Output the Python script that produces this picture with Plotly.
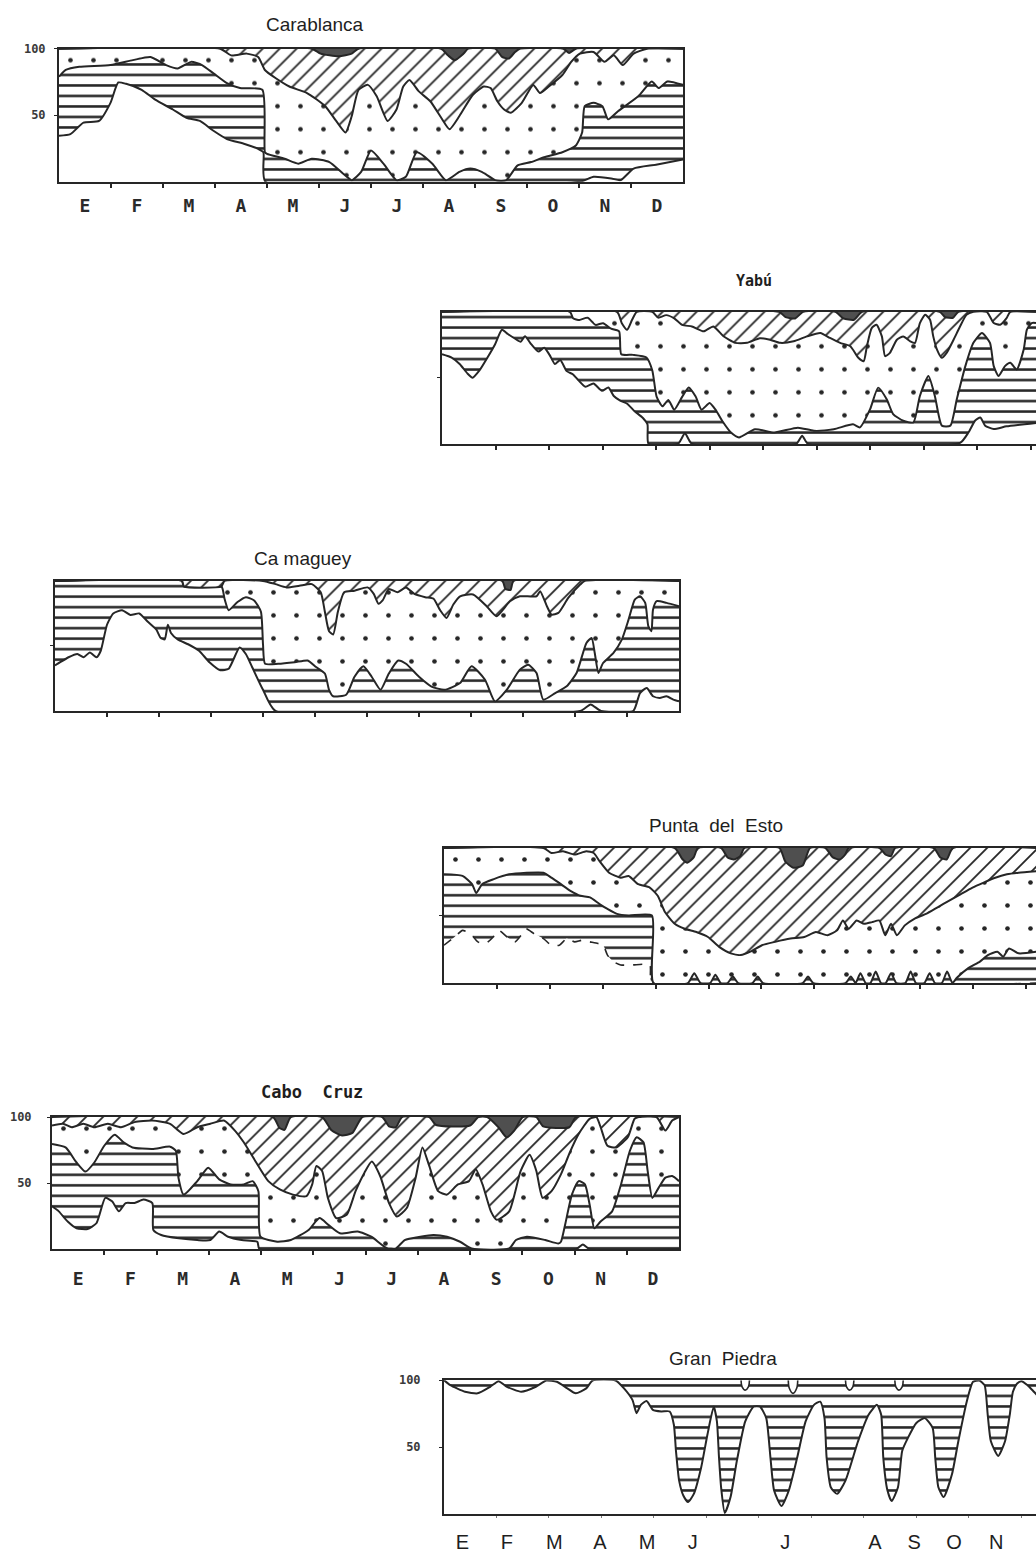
import plotly.graph_objects as go

W, H = 1036, 1553
INK = "#262626"
SOLID = "#4f4f4f"
NARROW = "Liberation Sans Narrow, Liberation Sans, Arial, sans-serif"
LEROY = "DejaVu Sans Mono, monospace"

MONTHS = ["E", "F", "M", "A", "M", "J", "J", "A", "S", "O", "N", "D"]
GP_MONTHS = ["E", "F", "M", "A", "M", "J", "J", "A", "S", "O", "N"]
GP_MONTH_POS = [0.35, 1.2, 2.1, 2.97, 3.87, 4.74, 6.5, 8.21, 8.96, 9.72, 10.52]

# ---------- Carablanca (month, percent) boundaries ----------
CARA_B1 = [(0, 34.6), (0.22, 35.8), (0.47, 44.4), (0.77, 45.7), (0.99, 59.3), (1.14, 74.6), (1.29, 73.6),
           (1.59, 69.1), (1.85, 61.7), (2.19, 54.3), (2.45, 48.1), (2.71, 45.7), (2.97, 38.3), (3.23, 32.1),
           (3.57, 28.4), (3.83, 24.7), (3.93, 22.2), (3.97, 0), (10.02, 0), (10.28, 3.7), (10.62, 2.5),
           (10.8, 1.2), (11.05, 9.9), (11.48, 12.8), (12, 16.8)]
CARA_B2 = [(0, 79), (0.13, 84), (0.39, 86.4), (0.99, 87.7), (1.42, 91.4), (1.76, 93.8), (2.06, 87.7),
           (2.28, 85.2), (2.54, 90.1), (2.75, 87.7), (2.97, 81.5), (3.23, 74.1), (3.48, 70.4), (3.91, 69.1),
           (3.96, 22.2), (4.0, 21), (4.34, 17.3), (4.6, 13.6), (4.86, 17.3), (5.2, 14.8), (5.46, 6.2),
           (5.63, 1.2), (5.81, 7.4), (6.0, 23.5), (6.24, 13.6), (6.49, 1.2), (6.67, 3.7), (6.88, 22.2),
           (7.18, 13.6), (7.44, 1.2), (7.7, 7.4), (7.91, 9.9), (8.13, 7.4), (8.39, 1.2), (8.6, 1.2),
           (8.82, 12.3), (9.08, 14.8), (9.33, 18.5), (9.68, 22.2), (9.94, 27.2), (10.06, 37), (10.11, 56.8),
           (10.28, 59.3), (10.45, 56.8), (10.56, 46.9), (10.75, 53), (11.14, 64.2), (11.4, 75.3),
           (11.53, 70.4), (11.7, 75.3), (12, 72.8)]
CARA_B3 = [(0, 100), (3.1, 100), (3.31, 95), (3.61, 96.3), (3.83, 93.8), (3.96, 84), (4.17, 77.8),
           (4.43, 71.6), (4.77, 66.7), (5.12, 56.8), (5.33, 45.7), (5.51, 37), (5.63, 49.4), (5.76, 69.1),
           (5.94, 72.8), (6.11, 64.2), (6.32, 45.7), (6.49, 54.3), (6.62, 71.6), (6.74, 76.5), (6.92, 67.9),
           (7.14, 60.5), (7.35, 48.1), (7.51, 39.5), (7.7, 49.4), (7.96, 65.4), (8.17, 71.6), (8.3, 70.4),
           (8.43, 60.5), (8.56, 54.3), (8.69, 51.9), (8.9, 59.3), (9.12, 72.8), (9.25, 66.7), (9.42, 71.6),
           (9.68, 80.2), (9.85, 90.1), (10.02, 96.3), (10.28, 97.5), (10.49, 90.1), (10.67, 95),
           (10.84, 87.7), (11.05, 96.3), (11.31, 100), (12, 100)]
CARA_B4 = [(0, 100), (4.86, 100), (5.03, 96.3), (5.38, 94.3), (5.63, 96.3), (5.76, 100), (7.35, 100),
           (7.48, 95), (7.61, 91.4), (7.78, 96.3), (7.87, 100), (8.39, 100), (8.52, 93.8), (8.65, 92.6),
           (8.77, 97.5), (8.86, 100), (9.7, 100), (9.81, 96.8), (9.94, 100), (12, 100)]

# ---------- Yabu ----------
YABU_B1 = [(0, 67.9), (0.18, 65.4), (0.33, 60.5), (0.48, 53.1), (0.57, 50.1), (0.7, 55.6), (0.85, 65.4),
           (0.99, 75.3), (1.12, 86.4), (1.23, 83.2), (1.36, 79.8), (1.47, 77.3), (1.55, 81.5), (1.67, 75.3),
           (1.8, 69.9), (1.91, 72.8), (2.01, 67.4), (2.11, 60.5), (2.21, 63.5), (2.33, 55.1), (2.45, 52.6),
           (2.55, 48.1), (2.68, 43.2), (2.83, 45.7), (2.99, 40.2), (3.11, 42.7), (3.21, 36.3), (3.33, 32.8),
           (3.46, 30.4), (3.6, 24.7), (3.75, 19.8), (3.84, 14.8), (3.86, 0), (4.41, 0), (4.54, 8.1),
           (4.67, 0), (6.62, 0), (6.73, 6.2), (6.84, 0), (9.68, 0.7), (9.84, 8.8), (9.96, 17.5), (10.06, 20),
           (10.15, 13.8), (10.31, 11.3), (10.55, 13.3), (11.1, 15.8)]
YABU_B2 = [(0, 100), (2.39, 100), (2.45, 95.1), (2.57, 93.8), (2.72, 95.6), (2.87, 90.1), (3.01, 91.4),
           (3.16, 87.2), (3.31, 85.2), (3.35, 67.9), (3.57, 67.4), (3.82, 65.4), (3.93, 55.6), (4.01, 35.8),
           (4.12, 28.4), (4.23, 33.3), (4.34, 25.9), (4.49, 35.8), (4.61, 42.7), (4.74, 35.8), (4.85, 25.9),
           (5.0, 30.9), (5.11, 25.9), (5.26, 16), (5.4, 8.6), (5.55, 4.9), (5.85, 11.1), (6.21, 8.6),
           (6.65, 12.3), (6.95, 9.9), (7.32, 11.1), (7.68, 14.8), (7.81, 12.5), (8.0, 26.3), (8.15, 42.6),
           (8.31, 33.8), (8.43, 22.6), (8.62, 17.5), (8.81, 16.3), (8.93, 36.3), (9.09, 51.4), (9.21, 36.3),
           (9.34, 13.8), (9.5, 13.8), (9.62, 33.8), (9.78, 58.9), (9.93, 76.5), (10.09, 84), (10.24, 76.5),
           (10.31, 58.9), (10.4, 51.4), (10.52, 58.9), (10.62, 61.4), (10.74, 56.4), (10.87, 71.4),
           (10.93, 86.5), (11.02, 91.5), (11.1, 91.5)]
YABU_B3 = [(0, 100), (3.27, 100), (3.36, 91.4), (3.46, 86.4), (3.55, 93.8), (3.64, 100), (3.93, 100),
           (4.04, 95.6), (4.19, 97.5), (4.34, 95.1), (4.49, 90.1), (4.67, 88.9), (4.89, 85.2), (5.07, 88.9),
           (5.26, 81.5), (5.48, 76.5), (5.7, 76.5), (5.94, 80), (6.13, 78.9), (6.32, 76.5), (6.57, 77.7),
           (6.82, 81.4), (7.07, 84), (7.25, 80.2), (7.44, 76.5), (7.63, 73.9), (7.78, 65.2), (7.88, 62.6),
           (7.94, 73.9), (8.03, 87.7), (8.12, 90.2), (8.22, 81.4), (8.28, 66.4), (8.37, 68.9), (8.5, 78.9),
           (8.62, 81.4), (8.75, 77.7), (8.84, 76.5), (8.93, 91.5), (9.03, 97.7), (9.12, 94), (9.18, 81.4),
           (9.25, 71.4), (9.34, 65.2), (9.43, 68.9), (9.56, 78.9), (9.68, 88.9), (9.8, 97.7), (9.93, 100),
           (10.18, 100), (10.31, 91.5), (10.43, 90.2), (10.55, 95.2), (10.62, 100), (11.1, 100)]
YABU_B4 = [(0, 100), (6.3, 100), (6.42, 96), (6.6, 95), (6.75, 100), (7.35, 100), (7.5, 95), (7.7, 94),
           (7.85, 100), (9.3, 100), (9.4, 96), (9.55, 95.5), (9.65, 100), (11.1, 100)]

# ---------- Camaguey ----------
CAMA_B1 = [(0, 35), (0.1, 37.5), (0.26, 41.3), (0.43, 43.8), (0.55, 41.3), (0.67, 45), (0.8, 41.3),
           (0.88, 46.3), (1.0, 66.3), (1.12, 75), (1.29, 77.5), (1.45, 73.8), (1.62, 75), (1.78, 68.8),
           (1.95, 62.5), (2.03, 56.3), (2.11, 55), (2.17, 66.3), (2.23, 60), (2.36, 55), (2.56, 51.3),
           (2.77, 46.3), (2.97, 37.5), (3.18, 31.3), (3.34, 32.5), (3.55, 48.8), (3.67, 43.8), (3.79, 33.8),
           (4.0, 16.3), (4.24, 0), (10.1, 0), (10.3, 5), (10.5, 0), (11.12, 0), (11.25, 13.8), (11.38, 17.7),
           (11.5, 11.3), (11.63, 10), (11.76, 11.3), (11.89, 8.7), (12, 7.4)]
CAMA_B2 = [(0, 100), (2.44, 100), (2.48, 95.8), (3.2, 95.8), (3.26, 86.3), (3.34, 77.5), (3.51, 83.8),
           (3.67, 87.5), (3.83, 85), (3.96, 76.3), (4.0, 51.3), (4.04, 36.3), (4.29, 36.3), (4.61, 37.5),
           (4.86, 38.8), (5.02, 33.8), (5.19, 28.8), (5.27, 16.3), (5.35, 11.3), (5.6, 12.5), (5.76, 26.3),
           (5.93, 34.3), (6.09, 26.3), (6.26, 16.3), (6.42, 28.8), (6.6, 38.8), (6.75, 36.3), (7.0, 26.3),
           (7.24, 18.8), (7.49, 16.3), (7.79, 21.5), (8.01, 34.4), (8.27, 24), (8.46, 7.4), (8.69, 16.4),
           (8.94, 31.8), (9.1, 35.6), (9.26, 29.2), (9.39, 8.7), (9.62, 13.8), (9.84, 19), (10.03, 29.2),
           (10.22, 52.3), (10.32, 56.2), (10.38, 44.6), (10.45, 29.2), (10.54, 36.9), (10.74, 44.6),
           (10.9, 54.8), (11.03, 70.2), (11.15, 85.6), (11.25, 88.2), (11.35, 83.1), (11.41, 65.2),
           (11.47, 61.3), (11.5, 77.9), (11.57, 84.4), (11.76, 83.1), (12, 80.5)]
CAMA_B3 = [(0, 100), (2.44, 100), (2.48, 95.8), (3.2, 95.8), (3.26, 100), (4.0, 100), (4.24, 97.5),
           (4.45, 95), (4.7, 96.3), (4.94, 97.5), (5.11, 91.3), (5.19, 76.3), (5.27, 61.3), (5.35, 58.8),
           (5.44, 76.3), (5.56, 91.3), (5.76, 92.5), (6.01, 95), (6.13, 90), (6.22, 82.5), (6.3, 85),
           (6.42, 93.8), (6.59, 91.3), (6.75, 95), (6.91, 90), (7.12, 87.5), (7.28, 86.3), (7.4, 77.9),
           (7.53, 71.5), (7.66, 81.8), (7.79, 88.2), (8.04, 89.5), (8.3, 80.5), (8.49, 72.8), (8.75, 84.4),
           (8.94, 88.2), (9.26, 88.2), (9.33, 92.1), (9.46, 80.5), (9.55, 74.1), (9.68, 75.4), (9.87, 86.9),
           (10.1, 97.2), (10.19, 100), (12, 100)]
CAMA_B4 = [(0, 100), (8.6, 100), (8.66, 94), (8.76, 93), (8.82, 100), (12, 100)]

# ---------- Punta del Esto ----------
PUNTA_B1 = [(0, 28), (0.2, 34.1), (0.35, 39), (0.5, 36.6), (0.64, 30.5), (0.79, 29.3), (0.93, 34.1),
            (1.04, 39), (1.19, 34.1), (1.34, 30.5), (1.48, 36.6), (1.55, 40.2), (1.7, 36.6), (1.88, 32.9),
            (2.03, 28), (2.18, 28), (2.32, 32.9), (2.47, 30.5), (2.61, 31.7), (2.76, 30.5), (2.91, 29.3),
            (3.01, 28), (3.09, 20.7), (3.2, 15.9), (3.34, 13.4), (3.56, 13.4), (3.89, 13.4), (3.93, 0),
            (11.2, 0)]
PUNTA_B2 = [(0, 80.5), (0.35, 79.3), (0.53, 73.2), (0.61, 66.6), (0.72, 73.2), (0.93, 76.8), (1.23, 80.5),
            (1.88, 81.7), (2.03, 78), (2.21, 73.2), (2.39, 68.3), (2.58, 64.6), (2.76, 63.4), (2.94, 58.5),
            (3.09, 54.9), (3.27, 51.2), (3.49, 50), (3.93, 50), (3.96, 0), (4.61, 0), (4.73, 7.3), (4.85, 0),
            (5.03, 0), (5.13, 6.1), (5.23, 0), (5.36, 0), (5.46, 4.9), (5.56, 0), (5.83, 0), (5.93, 4.9),
            (6.03, 0), (6.78, 0), (6.88, 4.9), (6.98, 0), (7.59, 0), (7.69, 4.9), (7.78, 0), (7.87, 7.3),
            (7.97, 0), (8.06, 0), (8.16, 8.5), (8.26, 0), (8.35, 0), (8.45, 7.3), (8.55, 0), (8.72, 0),
            (8.82, 8.5), (8.92, 0), (9.08, 0), (9.18, 7.3), (9.28, 0), (9.41, 0), (9.51, 8.5), (9.61, 0),
            (9.69, 3.7), (9.91, 11), (10.13, 15.9), (10.28, 20.7), (10.46, 23.2), (10.57, 19.5),
            (10.68, 25.6), (10.86, 22), (11.2, 23.2)]
PUNTA_B3 = [(0, 100), (1.88, 100), (2.03, 96.3), (2.25, 97.6), (2.47, 95.1), (2.69, 97.6), (2.83, 96.3),
            (2.94, 90.2), (3.12, 81.7), (3.34, 78), (3.49, 79.3), (3.67, 73.2), (3.89, 70.7), (4.04, 64.6),
            (4.18, 52.4), (4.36, 43.9), (4.55, 40.2), (4.77, 37.8), (4.99, 34.1), (5.2, 26.8), (5.42, 22),
            (5.61, 20.7), (5.79, 23.2), (6.01, 28), (6.26, 30.5), (6.55, 32.9), (6.81, 34.1), (7.03, 37.8),
            (7.25, 35.4), (7.43, 39), (7.54, 46.3), (7.65, 40.2), (7.8, 46.3), (7.94, 43.9), (8.09, 45.1),
            (8.23, 46.3), (8.34, 35.4), (8.45, 43.9), (8.56, 35.4), (8.71, 42.7), (8.89, 47.6), (9.11, 51.2),
            (9.33, 56.1), (9.55, 61), (9.77, 65.9), (9.99, 70.7), (10.2, 74.4), (10.42, 78), (10.64, 80.5),
            (10.86, 81.7), (11.2, 82.9)]
PUNTA_B4 = [(0, 100), (4.36, 100), (4.5, 92), (4.6, 89), (4.72, 93), (4.8, 100), (5.24, 100), (5.36, 93),
            (5.48, 91.5), (5.6, 94), (5.68, 100), (6.34, 100), (6.45, 90), (6.6, 85.4), (6.78, 87),
            (6.92, 100), (7.21, 100), (7.35, 93), (7.48, 91.5), (7.58, 95), (7.65, 100), (8.23, 100),
            (8.35, 95), (8.45, 94), (8.53, 100), (9.26, 100), (9.38, 93), (9.5, 91.5), (9.62, 100), (11.2, 100)]

# ---------- Cabo Cruz ----------
CABO_B1 = [(0, 32.4), (0.13, 28.6), (0.3, 20.9), (0.47, 15.8), (0.68, 15.3), (0.85, 19.6), (1.02, 38.8),
           (1.15, 36.2), (1.28, 28.6), (1.41, 34.9), (1.58, 34.9), (1.75, 37.5), (1.92, 34.9), (1.94, 14.5),
           (2.09, 10.7), (2.43, 8.2), (2.78, 6.9), (3.03, 6.9), (3.2, 13.3), (3.37, 9.4), (3.63, 6.9),
           (3.93, 5.6), (3.97, 0), (10.03, 0), (10.16, 3.6), (10.29, 0), (12, 0)]
CABO_B2 = [(0, 79.6), (0.26, 77), (0.47, 65.6), (0.64, 58.7), (0.81, 65.6), (1.0, 78.3), (1.2, 86.7),
           (1.37, 80.9), (1.54, 77), (1.92, 75.8), (2.26, 77.6), (2.37, 74.5), (2.42, 54.1), (2.52, 41.3),
           (2.78, 51.5), (2.99, 61.7), (3.2, 52.8), (3.42, 49), (3.67, 49), (3.84, 51.5), (3.95, 43.9),
           (3.99, 9.4), (4.31, 5.6), (4.57, 6.9), (4.91, 14.5), (5.12, 23.5), (5.29, 18.4), (5.51, 12),
           (5.85, 13.3), (6.11, 9.4), (6.4, 1), (6.58, 0.5), (6.75, 6.9), (7.05, 9.4), (7.3, 10.7),
           (7.56, 9.4), (7.81, 5.6), (8.03, 0.5), (8.75, 0.5), (8.88, 6.9), (9.09, 9.4), (9.44, 6.9),
           (9.69, 4.3), (9.74, 5.6), (9.82, 18.4), (9.95, 41.3), (10.08, 51.5), (10.2, 49), (10.29, 33.7),
           (10.38, 15.8), (10.5, 20.9), (10.72, 28.6), (10.89, 49), (11.06, 74.5), (11.19, 84.7),
           (11.32, 80.9), (11.4, 59.2), (11.49, 38.8), (11.61, 46.4), (11.74, 54.1), (11.87, 55.4), (12, 51.5)]
CABO_B3 = [(0, 93.6), (0.21, 94.9), (0.38, 92.3), (0.6, 94.9), (0.81, 92.3), (1.07, 94.9), (1.32, 92.3),
           (1.58, 96.2), (1.92, 97.4), (2.26, 94.9), (2.52, 87.2), (2.78, 92.3), (3.03, 94.9), (3.29, 97.4),
           (3.5, 89.8), (3.67, 80.9), (3.89, 66.8), (4.14, 51.5), (4.36, 45.2), (4.61, 41.3), (4.87, 40.1),
           (4.98, 49), (5.06, 63), (5.17, 59.2), (5.28, 38.8), (5.44, 23.5), (5.64, 26), (5.81, 43.9),
           (5.98, 57.9), (6.12, 66.3), (6.28, 55.4), (6.45, 34.9), (6.6, 24.7), (6.79, 31.1), (6.96, 54.1),
           (7.09, 77), (7.22, 63), (7.39, 43.9), (7.56, 41.3), (7.77, 49), (7.98, 51.5), (8.11, 60.5),
           (8.24, 49), (8.4, 28.6), (8.51, 22.2), (8.75, 28.6), (8.97, 59.2), (9.14, 71.4), (9.27, 59.2),
           (9.39, 38.8), (9.56, 43.9), (9.74, 56.6), (9.91, 73.2), (10.08, 87.2), (10.29, 98.7), (10.42, 100),
           (10.5, 92.3), (10.63, 78.3), (10.8, 77), (11.02, 84.7), (11.15, 98.7), (11.23, 100), (11.57, 100),
           (11.74, 89.8), (11.87, 97.4), (12, 100)]
CABO_B4 = [(0, 100), (4.23, 100), (4.35, 92), (4.45, 90.3), (4.57, 100), (5.17, 100), (5.35, 90), (5.55, 86),
           (5.75, 88), (5.94, 100), (6.32, 100), (6.45, 93), (6.58, 92.3), (6.7, 100), (7.22, 100), (7.35, 94),
           (8.0, 93.6), (8.16, 100), (8.33, 100), (8.55, 92), (8.7, 84.7), (8.85, 90), (9.01, 100),
           (9.27, 100), (9.4, 93), (9.9, 92.3), (10.03, 100), (12, 100)]

# ---------- Gran Piedra ----------
GP_B1 = [(0, 100), (0.12, 96.3), (0.4, 91.4), (0.64, 90.2), (0.88, 95.1), (1.04, 99.3), (1.2, 95.1),
         (1.47, 91.4), (1.75, 95.1), (1.95, 99.8), (2.15, 98.8), (2.35, 93.9), (2.51, 90.2), (2.71, 93.9),
         (2.83, 99.8), (3.27, 99.8), (3.43, 93.9), (3.59, 85.3), (3.67, 75.4), (3.75, 81.6), (3.86, 84.5),
         (3.98, 77.9), (4.14, 76.7), (4.3, 76.7), (4.38, 66.8), (4.42, 47.2), (4.48, 25.1), (4.56, 14),
         (4.65, 9.1), (4.76, 15.2), (4.9, 34.9), (5.02, 59.5), (5.14, 80.3), (5.2, 69.3), (5.24, 42.3),
         (5.28, 20.1), (5.35, 1), (5.46, 12.8), (5.58, 39.8), (5.74, 69.3), (5.9, 80.3), (6.02, 80.3),
         (6.14, 71.7), (6.22, 42.3), (6.29, 17.7), (6.43, 6.1), (6.57, 17.7), (6.73, 42.3), (6.89, 69.3),
         (7.05, 81.6), (7.17, 84), (7.25, 71.7), (7.29, 42.3), (7.37, 20.1), (7.49, 15.2), (7.65, 25.1),
         (7.89, 54.5), (8.09, 74.2), (8.25, 81.6), (8.33, 74.2), (8.37, 42.3), (8.45, 17.7), (8.53, 9.8),
         (8.65, 20.1), (8.73, 47.2), (8.84, 57), (9.0, 68.1), (9.16, 71.7), (9.31, 64.4), (9.36, 42.3),
         (9.42, 20.1), (9.52, 12.8), (9.68, 30), (9.8, 54.5), (9.96, 84), (10.08, 98.8), (10.2, 99.8),
         (10.3, 96.3), (10.36, 74.2), (10.42, 54.5), (10.56, 43.5), (10.69, 54.5), (10.78, 74.2),
         (10.84, 91.4), (10.92, 97.5), (11.0, 99.3), (11.12, 96.3), (11.24, 91.4), (11.3, 88.9)]
GP_HOLES = [
    [(5.66, 100), (5.68, 95), (5.74, 92.6), (5.8, 95), (5.82, 100)],
    [(6.56, 100), (6.58, 94), (6.65, 90.2), (6.72, 94), (6.74, 100)],
    [(7.65, 100), (7.67, 95), (7.73, 92.6), (7.79, 95), (7.81, 100)],
    [(8.59, 100), (8.61, 95), (8.67, 92.6), (8.73, 95), (8.75, 100)],
]

# ---------- panel geometry (pixels in the 1036x1553 page) ----------
PANELS = [
    dict(name="Carablanca", layers=[CARA_B1, CARA_B2, CARA_B3, CARA_B4], box=(59, 42, 683, 176), xmax=12,
         title_xy=(315, 18), title_font=(NARROW, 19, False), months="full", ylabels=True, full=True,
         xstand=7, ystand=6),
    dict(name="Yabú", layers=[YABU_B1, YABU_B2, YABU_B3, YABU_B4], box=(442, 307, 1036, 440), xmax=11.1,
         title_xy=(754, 276), title_font=(LEROY, 15, True), months=None, ylabels=False, full=False),
    dict(name="Ca maguey", layers=[CAMA_B1, CAMA_B2, CAMA_B3, CAMA_B4], box=(55, 578, 679, 709), xmax=12,
         title_xy=(303, 555), title_font=(NARROW, 19, False), months=None, ylabels=False, full=True),
    dict(name="Punta\u00a0 del\u00a0 Esto", layers=[PUNTA_B1, PUNTA_B2, PUNTA_B3, PUNTA_B4],
         box=(444, 847, 1036, 983), xmax=11.19, title_xy=(716, 824), title_font=(NARROW, 19, False),
         months=None, ylabels=False, full=False, dash_b1=True),
    dict(name="Cabo\u00a0 Cruz", layers=[CABO_B1, CABO_B2, CABO_B3, CABO_B4], box=(52, 1118, 679, 1251),
         xmax=12, title_xy=(312, 1093), title_font=(LEROY, 17, True), months="full", ylabels=True,
         full=True, xstand=12, ystand=13),
    dict(name="Gran\u00a0 Piedra", layers=[GP_B1], box=(444, 1383, 1036, 1518), xmax=11.28,
         title_xy=(723, 1361), title_font=(NARROW, 19, False), months="gp", ylabels=True, full=False,
         xstand=9, ystand=16),
]

PATTERNS = [
    dict(shape="-", size=10.5, solidity=0.24, fgcolor=INK, bgcolor="white", fillmode="replace"),
    dict(shape=".", size=23, solidity=0.032, fgcolor=INK, bgcolor="white", fillmode="replace"),
    dict(shape="/", size=12, solidity=0.15, fgcolor=INK, bgcolor="white", fillmode="replace"),
]
LINE_W = 2.0

fig = go.Figure()
annotations = []

for i, p in enumerate(PANELS, start=1):
    xa = "x" if i == 1 else f"x{i}"
    ya = "y" if i == 1 else f"y{i}"
    xmax = p["xmax"]
    layers = p["layers"]
    for k, pts in enumerate(layers):
        xs = [q[0] for q in pts]
        ys = [q[1] for q in pts]
        kw = dict(x=xs, y=ys, mode="lines", xaxis=xa, yaxis=ya, showlegend=False, hoverinfo="skip",
                  line=dict(color=INK, width=LINE_W, shape="spline", smoothing=0.55))
        if k == 0 and p.get("dash_b1"):
            kw["line"] = dict(color=INK, width=1.6, dash="dash", shape="spline", smoothing=0.55)
        if k > 0:
            kw["fill"] = "tonexty"
            kw["fillcolor"] = "white"
            kw["fillpattern"] = PATTERNS[k - 1]
        fig.add_trace(go.Scatter(**kw))
    top_kw = dict(x=[0, xmax], y=[100, 100], mode="lines", xaxis=xa, yaxis=ya, showlegend=False,
                  hoverinfo="skip", fill="tonexty", line=dict(width=0, color=INK))
    if len(layers) == 4:
        top_kw["fillcolor"] = SOLID
    else:
        top_kw["fillcolor"] = "white"
        top_kw["fillpattern"] = PATTERNS[0]
    fig.add_trace(go.Scatter(**top_kw))
    if len(layers) == 1:
        for hole in GP_HOLES:
            fig.add_trace(go.Scatter(x=[q[0] for q in hole], y=[q[1] for q in hole], mode="lines",
                                     fill="toself", fillcolor="white",
                                     line=dict(color=INK, width=1.6, shape="spline"),
                                     xaxis=xa, yaxis=ya, showlegend=False, hoverinfo="skip"))

    l, t, r, b = p["box"]
    xdom = [l / W, min(r / W, 1.0)]
    ydom = [1 - b / H, 1 - t / H]

    xaxis = dict(domain=xdom, anchor=ya, range=[0, xmax], showgrid=False, zeroline=False, showline=True,
                 linecolor=INK, linewidth=2, mirror=True, fixedrange=True)
    if p["months"] == "full":
        xaxis.update(tickmode="array", tickvals=[m + 0.5 for m in range(12)], ticktext=MONTHS,
                     ticks="", tickfont=dict(family=LEROY, size=18, color="#2a2a2a", weight="bold"),
                     ticklabelstandoff=p["xstand"],
                     minor=dict(tickmode="array", tickvals=list(range(1, 12)), ticks="outside",
                                ticklen=4, tickcolor=INK, tickwidth=1.6))
    elif p["months"] == "gp":
        xaxis.update(tickmode="array", tickvals=GP_MONTH_POS, ticktext=GP_MONTHS, ticks="",
                     tickfont=dict(family=NARROW, size=20, color="#1e1e1e"),
                     ticklabelstandoff=p["xstand"],
                     minor=dict(tickmode="array", tickvals=list(range(1, 12)), ticks="outside",
                                ticklen=2, tickcolor="#777", tickwidth=1))
    else:
        xaxis.update(tickmode="array", tickvals=list(range(1, 12)), ticks="outside", ticklen=4,
                     tickcolor=INK, tickwidth=1.6, showticklabels=False)

    yaxis = dict(domain=ydom, anchor=xa, range=[0, 100], showgrid=False, zeroline=False, showline=True,
                 linecolor=INK, linewidth=2, mirror=p["full"], fixedrange=True,
                 tickmode="array", ticks="outside", ticklen=3, tickcolor=INK, tickwidth=1.4)
    if p["ylabels"]:
        yaxis.update(tickvals=[50, 100], ticktext=["50", "100"], ticklabelstandoff=p["ystand"],
                     tickfont=dict(family=LEROY, size=12, color="#3a3a3a", weight="bold"))
    else:
        yaxis.update(tickvals=[50], showticklabels=False)

    fig.layout[("xaxis" if i == 1 else f"xaxis{i}")] = xaxis
    fig.layout[("yaxis" if i == 1 else f"yaxis{i}")] = yaxis

    tx, ty = p["title_xy"]
    fam, size, bold = p["title_font"]
    annotations.append(dict(
        text=p["name"], x=tx / W, y=1 - ty / H, xref="paper", yref="paper", xanchor="center",
        yanchor="middle", showarrow=False,
        font=dict(family=fam, size=size, color="#1e1e1e", weight=("bold" if bold else "normal"))))

fig.update_layout(width=W, height=H, margin=dict(l=0, r=0, t=0, b=0), paper_bgcolor="white",
                  plot_bgcolor="white", annotations=annotations, showlegend=False)

fig.write_html("out.html", config={"displayModeBar": False},
               post_script="document.body.style.margin='0px';document.body.style.overflow='hidden';")
